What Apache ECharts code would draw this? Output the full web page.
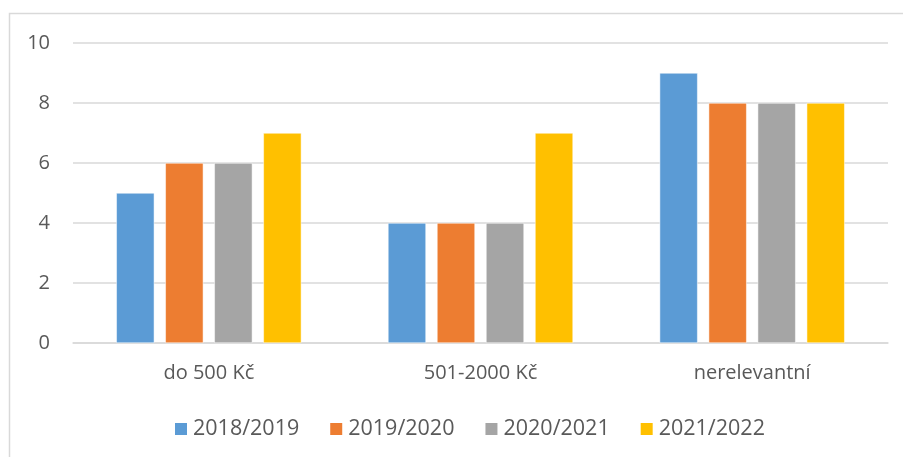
<!DOCTYPE html>
<html>
<head>
<meta charset="utf-8">
<script src="https://cdn.jsdelivr.net/npm/echarts@6/dist/echarts.min.js"></script>
<style>
html,body{margin:0;padding:0;background:#fff;}
#chart{width:903px;height:457px;}
</style>
</head>
<body>
<div id="chart"></div>
<script>
// data
const categories = ['do 500 Kč', '501-2000 Kč', 'nerelevantní'];
const seriesNames = ['2018/2019', '2019/2020', '2020/2021', '2021/2022'];
const values2018 = [5, 4, 9];
const values2019 = [6, 4, 8];
const values2020 = [6, 4, 8];
const values2021 = [7, 7, 8];
const colors = ['#5B9BD5', '#ED7D31', '#A5A5A5', '#FFC000'];

const font = 'Open Sans';
const allValues = [values2018, values2019, values2020, values2021];

let chart = echarts.init(document.getElementById('chart'));
let option = {
	color: colors,
	textStyle: {fontFamily: font},
	graphic: [{
		type: 'rect',
		shape: {x: 9.5, y: 13.5, width: 900, height: 460},
		style: {fill: 'none', stroke: '#d9d9d9', lineWidth: 1.5},
		silent: true
	}],
	grid: {left: 73, right: 15, top: 43, bottom: 114, containLabel: false},
	legend: {
		data: seriesNames,
		top: 413,
		left: 168,
		itemWidth: 14,
		itemHeight: 14,
		itemGap: 29,
		icon: 'rect',
		textStyle: {fontFamily: font, fontSize: 21.5, color: '#595959'}
	},
	xAxis: {
		type: 'category',
		data: categories,
		axisLine: {lineStyle: {color: '#d9d9d9', width: 1.5}},
		axisTick: {show: false},
		axisLabel: {fontFamily: font, fontSize: 20, color: '#595959', margin: 20}
	},
	yAxis: {
		type: 'value',
		min: 0,
		max: 10,
		interval: 2,
		axisLine: {show: false},
		axisTick: {show: false},
		splitLine: {lineStyle: {color: '#d9d9d9', width: 1.5}},
		axisLabel: {fontFamily: font, fontSize: 20, color: '#595959', margin: 23}
	},
	series: seriesNames.map(function (name, i) {
		return {
			name: name,
			type: 'bar',
			data: allValues[i],
			barWidth: 38,
			barGap: '29%',
			itemStyle: {borderColor: '#fff', borderWidth: 0.5}
		};
	})
};
chart.setOption(option);
</script>
</body>
</html>
